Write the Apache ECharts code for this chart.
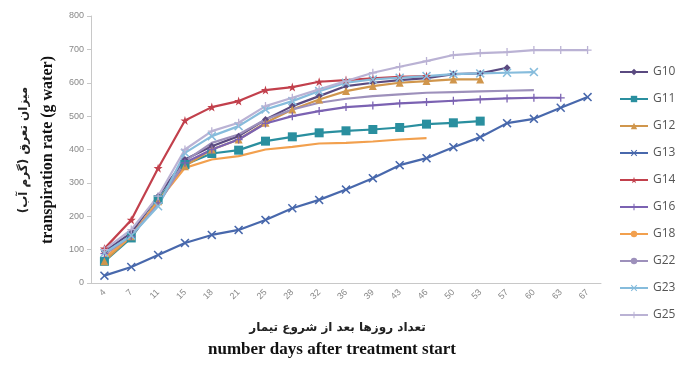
<!DOCTYPE html>
<html>
<head>
<meta charset="utf-8">
<script src="https://cdn.jsdelivr.net/npm/echarts@6/dist/echarts.min.js"></script>
<style>html,body{margin:0;padding:0;background:#fff;}#c{width:675px;height:365px;}</style>
</head>
<body>
<div id="c"></div>
<script>
const days = ['4','7','11','15','18','21','25','28','32','36','39','43','46','50','53','57','60','63','67'];
const G10 = [95,150,260,370,410,440,490,530,560,590,600,608,614,626,628,645];
const G11 = [65,135,250,355,388,398,425,438,450,456,460,466,476,480,485];
const G12 = [65,140,245,350,400,430,480,520,550,575,590,600,605,610,610];
const G13 = [22,48,84,120,144,159,189,224,249,280,314,353,374,407,437,479,492,525,557];
const G14 = [103,189,344,487,527,545,578,587,603,608,613,618,620];
const G16 = [88,140,240,360,400,430,478,500,515,527,532,538,542,546,550,553,555,555];
const G18 = [75,140,245,345,370,380,400,408,418,420,424,430,434];
const G22 = [85,142,235,365,420,445,490,520,540,552,560,565,570,572,574,576,578];
const G23 = [90,142,230,390,440,470,520,545,575,600,610,615,620,626,628,630,632];
const G25 = [100,160,260,400,455,480,530,555,580,605,630,648,665,683,689,692,698,698,698];
const names = ['G10','G11','G12','G13','G14','G16','G18','G22','G23','G25'];

const X = 'path://M0,1.2L1.2,0L5,3.8L8.8,0L10,1.2L6.2,5L10,8.8L8.8,10L5,6.2L1.2,10L0,8.8L3.8,5Z';
const PLUS = 'path://M4.2,0H5.8V4.2H10V5.8H5.8V10H4.2V5.8H0V4.2H4.2Z';
const STAR = 'path://M5,0L6.2,3.8L10,3.8L7,6.2L8.1,10L5,7.6L1.9,10L3,6.2L0,3.8L3.8,3.8Z';

const styles = {
  G10:{data:G10,color:'#5a4a80',symbol:'diamond',size:7},
  G11:{data:G11,color:'#2a8f9f',symbol:'rect',size:9},
  G12:{data:G12,color:'#d0964c',symbol:'triangle',size:8},
  G13:{data:G13,color:'#4868ac',symbol:X,size:9},
  G14:{data:G14,color:'#c2404c',symbol:STAR,size:9},
  G16:{data:G16,color:'#7b62b2',symbol:PLUS,size:8},
  G18:{data:G18,color:'#f2a04e',symbol:'none',size:0},
  G22:{data:G22,color:'#9d90bb',symbol:'none',size:0},
  G23:{data:G23,color:'#86bcdc',symbol:X,size:9},
  G25:{data:G25,color:'#bab2d4',symbol:PLUS,size:8}
};

const series = names.map(n => {
  const s = styles[n];
  return {
    name: n, type: 'line', data: s.data,
    symbol: s.symbol, symbolSize: s.size, showSymbol: s.symbol !== 'none',
    lineStyle: {color: s.color, width: 2.2},
    itemStyle: {color: s.color},
    emphasis: {disabled: true}
  };
});

const chart = echarts.init(document.getElementById('c'), null, {renderer:'canvas'});
chart.setOption({
  animation: false,
  backgroundColor: '#ffffff',
  grid: {left: 91, right: 74, top: 16, bottom: 82},
  legend: {
    orient: 'vertical', left: 614, top: 61, itemGap: 15, itemWidth: 28, itemHeight: 8,
    data: names,
    textStyle: {color: '#555', fontSize: 12, fontFamily: 'Open Sans'}
  },
  xAxis: {
    type: 'category', data: days, boundaryGap: true,
    axisLine: {lineStyle: {color: '#c8c8c8'}},
    axisTick: {show: false},
    axisLabel: {rotate: 45, color: '#888', fontSize: 9, fontFamily: 'Liberation Sans', margin: 8}
  },
  yAxis: {
    type: 'value', min: 0, max: 800, interval: 100,
    axisLine: {show: true, lineStyle: {color: '#c8c8c8'}},
    axisTick: {show: true, length: 4, lineStyle: {color: '#c8c8c8'}},
    splitLine: {show: false},
    axisLabel: {color: '#888', fontSize: 9, fontFamily: 'Liberation Sans', margin: 7}
  },
  graphic: [
    {type:'text', left: 'center', x: 0, top: 322, style:{text:'تعداد روزها بعد از شروع تیمار', fill:'#222', font:'bold 12px "DejaVu Sans"'}},
    {type:'text', left: 208, top: 341, style:{text:'number days after treatment start', fill:'#111', font:'bold 17px "Liberation Serif"'}},
    {type:'text', x: 48, y: 150, rotation: Math.PI/2, style:{text:'transpiration rate (g water)', fill:'#111', font:'bold 16px "Liberation Serif"', align:'center', verticalAlign:'middle'}},
    {type:'text', x: 24, y: 150, rotation: Math.PI/2, style:{text:'میزان تعرق (گرم آب)', fill:'#222', font:'bold 12px "DejaVu Sans"', align:'center', verticalAlign:'middle'}}
  ],
  series: series
});
</script>
</body>
</html>
